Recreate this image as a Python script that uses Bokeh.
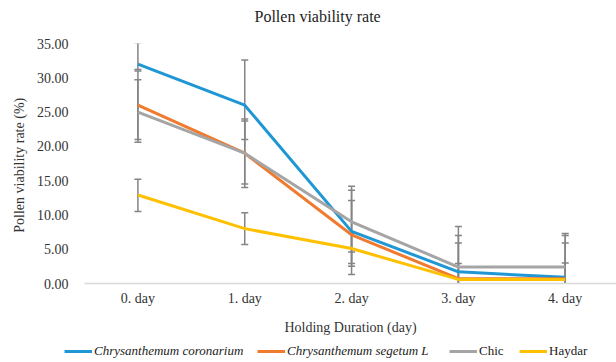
from bokeh.plotting import figure
from bokeh.layouts import column, row
from bokeh.models import (FixedTicker, NumeralTickFormatter, Legend, LegendItem, Title)
from bokeh.embed import file_html
from bokeh.resources import INLINE

# ---- data ----
days = ["0. day", "1. day", "2. day", "3. day", "4. day"]
x_pos = [0, 1, 2, 3, 4]

coronarium = [32.0, 26.0, 7.6, 1.7, 0.9]
segetum = [26.0, 19.0, 7.1, 0.7, 0.7]
chic = [25.0, 19.0, 9.0, 2.4, 2.4]
haydar = [12.9, 8.0, 5.1, 0.6, 0.6]

coronarium_err_up = [3.1, 6.6, 6.0, 5.3, 6.1]
coronarium_err_dn = [0.8, 5.0, 6.3, 5.3, 6.1]
segetum_err_up = [5.0, 5.0, 5.0, 5.2, 5.2]
segetum_err_dn = [5.0, 5.0, 4.6, 5.2, 5.2]
chic_err_up = [4.7, 4.7, 5.2, 5.9, 4.9]
chic_err_dn = [4.4, 4.5, 4.4, 5.9, 4.9]
haydar_err_up = [2.3, 2.3, 2.2, 2.3, 2.4]
haydar_err_dn = [2.4, 2.3, 2.2, 2.3, 2.4]

y_ticks = [0, 5, 10, 15, 20, 25, 30, 35]

series = [
    ("Chrysanthemum coronarium", coronarium, coronarium_err_up, coronarium_err_dn, "#1f97d4", "italic"),
    ("Chrysanthemum segetum L", segetum, segetum_err_up, segetum_err_dn, "#f07a2e", "italic"),
    ("Chic", chic, chic_err_up, chic_err_dn, "#a5a5a5", "normal"),
    ("Haydar", haydar, haydar_err_up, haydar_err_dn, "#ffc000", "normal"),
]
legend_x = [64, 257, 449, 519]

FONT = "Liberation Serif"

# ---- title strip ----
tf = figure(width=616, height=26, output_backend="svg", toolbar_location=None,
            x_range=(0, 1), y_range=(0, 1), min_border=0, min_border_top=24,
            min_border_left=84, title=None)
tf.axis.visible = False
tf.grid.grid_line_color = None
tf.outline_line_color = None
t = Title(text="Pollen viability rate", text_font=FONT, text_font_size="16px",
          text_font_style="normal", text_color="#222222", align="left", offset=170,
          standoff=0)
tf.add_layout(t, "above")

# ---- main chart ----
p = figure(width=616, height=314, output_backend="svg", toolbar_location=None,
           x_range=(-0.5, 4.48), y_range=(0, 35),
           min_border_left=84, min_border_right=0, min_border_top=17, min_border_bottom=57,
           title=None)
p.outline_line_color = None
p.xgrid.grid_line_color = None
p.ygrid.grid_line_color = None

# error bars (drawn first, underneath lines)
for name, vals, eu, ed, col, st in series:
    hi = [v + e for v, e in zip(vals, eu)]
    lo = [v - e for v, e in zip(vals, ed)]
    p.segment(x0=x_pos, y0=lo, x1=x_pos, y1=hi, line_color="#848484", line_width=1.5)
    p.dash(x=x_pos, y=hi, size=7, line_color="#848484", line_width=1.5)
    p.dash(x=x_pos, y=lo, size=7, line_color="#848484", line_width=1.5)

for name, vals, eu, ed, col, st in series:
    p.line(x_pos, vals, line_color=col, line_width=3)

# axes
p.yaxis.ticker = FixedTicker(ticks=y_ticks)
p.yaxis.formatter = NumeralTickFormatter(format="0.00")
p.yaxis.axis_line_color = None
p.yaxis.major_tick_line_color = None
p.yaxis.minor_tick_line_color = None
p.yaxis.major_label_text_font = FONT
p.yaxis.major_label_text_font_size = "14px"
p.yaxis.major_label_text_color = "#333333"
p.yaxis.major_label_standoff = 10
p.yaxis.axis_label = "Pollen  viability rate (%)"
p.yaxis.axis_label_text_font = FONT
p.yaxis.axis_label_text_font_size = "14px"
p.yaxis.axis_label_text_font_style = "normal"
p.yaxis.axis_label_text_color = "#333333"
p.yaxis.axis_label_standoff = 7

p.xaxis.ticker = FixedTicker(ticks=x_pos)
p.xaxis.major_label_overrides = {x: d for x, d in zip(x_pos, days)}
p.xaxis.axis_line_color = "#d9d9d9"
p.xaxis.axis_line_width = 1.5
p.xaxis.major_tick_line_color = None
p.xaxis.minor_tick_line_color = None
p.xaxis.major_label_text_font = FONT
p.xaxis.major_label_text_font_size = "14px"
p.xaxis.major_label_text_color = "#333333"
p.xaxis.major_label_standoff = 1
p.xaxis.axis_label = "Holding Duration (day)"
p.xaxis.axis_label_text_font = FONT
p.xaxis.axis_label_text_font_size = "14px"
p.xaxis.axis_label_text_font_style = "normal"
p.xaxis.axis_label_text_color = "#333333"
p.xaxis.axis_label_standoff = 11

# ---- legend strip below the chart ----
lf = figure(width=616, height=22, output_backend="svg", toolbar_location=None,
            x_range=(100, 101), y_range=(100, 101), min_border=0)
lf.axis.visible = False
lf.grid.grid_line_color = None
lf.outline_line_color = None
for (name, vals, eu, ed, col, st), lx in zip(series, legend_x):
    r = lf.line(x_pos, vals, line_color=col, line_width=3)
    lg = Legend(items=[LegendItem(label=name, renderers=[r])],
                location=(lx, 3), orientation="horizontal")
    lg.label_text_font = FONT
    lg.label_text_font_size = "13px"
    lg.label_text_font_style = st
    lg.label_text_color = "#222222"
    lg.glyph_width = 28
    lg.glyph_height = 14
    lg.label_height = 14
    lg.label_standoff = 2
    lg.padding = 0
    lg.margin = 0
    lg.border_line_color = None
    lg.background_fill_alpha = 0
    lf.add_layout(lg)

layout = column(tf, p, row(lf, spacing=0), spacing=0)
open("out.html", "w").write(file_html(layout, INLINE))
